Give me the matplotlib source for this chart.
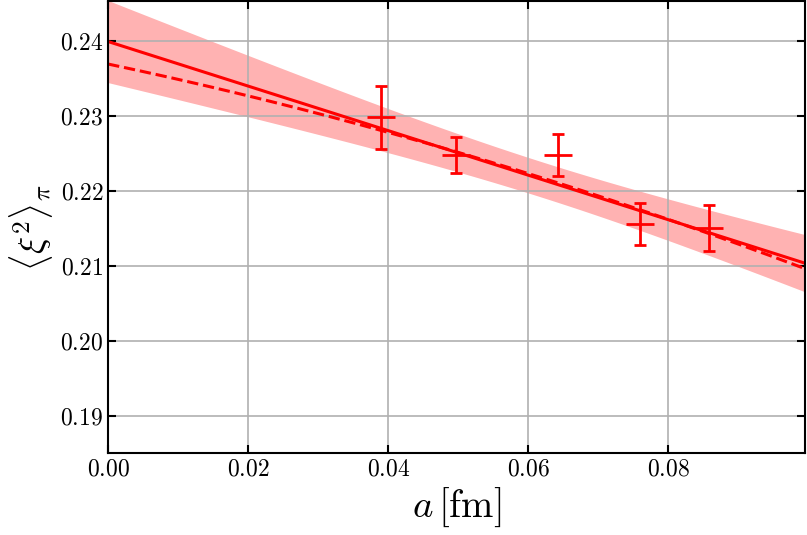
import numpy as np
import matplotlib
matplotlib.use("Agg")
import matplotlib.pyplot as plt
from matplotlib.ticker import FuncFormatter

plt.rcParams['mathtext.fontset'] = 'cm'
plt.rcParams['font.family'] = 'serif'
plt.rcParams['font.serif'] = ['cmr10', 'DejaVu Serif']

# lattice data
a = np.array([0.0390, 0.0497, 0.0643, 0.0760, 0.0859])
xi2 = np.array([0.2298, 0.2248, 0.2248, 0.2156, 0.2150])
xi2_err = np.array([0.0042, 0.0024, 0.0028, 0.0028, 0.0031])

# linear continuum fit: y = c0 + c1 * a, with covariance for the band
fit_c0, fit_c1 = 0.2399, -0.2970
fit_cov = np.array([[3.0e-5, -3.94e-4], [-3.94e-4, 6.36e-3]])
# quadratic fit (dashed): y = d0 + d1 * a + d2 * a^2
alt_d0, alt_d1, alt_d2 = 0.2369, -0.1967, -0.778

xmax = 0.0996
x = np.linspace(0, xmax, 200)
y = fit_c0 + fit_c1 * x
dy = np.sqrt(fit_cov[0, 0] + 2 * fit_cov[0, 1] * x + fit_cov[1, 1] * x**2)
y_alt = alt_d0 + alt_d1 * x + alt_d2 * x**2

fig = plt.figure(figsize=(8.07, 5.35), dpi=100)
ax = fig.add_axes([0.134, 0.153, 0.864, 0.845])

ax.fill_between(x, y - dy, y + dy, color='red', alpha=0.3, lw=0)
ax.plot(x, y, color='red', lw=2.2)
ax.plot(x, y_alt, color='red', lw=2.2, ls='--')
ax.errorbar(a, xi2, yerr=xi2_err, fmt='_', color='red', ms=20, mew=2,
            elinewidth=2, capsize=4, capthick=2)

ax.set_xlim(0, xmax)
ax.set_ylim(0.185, 0.2453)
ax.set_xticks([0.0, 0.02, 0.04, 0.06, 0.08])
ax.set_yticks([0.19, 0.20, 0.21, 0.22, 0.23, 0.24])
fmt = FuncFormatter(lambda v, p: r'$%.2f$' % v)
ax.xaxis.set_major_formatter(fmt)
ax.yaxis.set_major_formatter(fmt)
ax.tick_params(direction='in', top=True, right=True, labelsize=17,
               length=6, width=1.5)
ax.grid(True, color='#b0b0b0', lw=1.2)
for s in ax.spines.values():
    s.set_linewidth(1.5)

ax.set_xlabel(r'$a\,[\mathrm{fm}]$', fontsize=28)
ax.set_ylabel(r'$\langle \xi^2 \rangle_\pi$', fontsize=26)

fig.savefig('out.png', dpi=100)
